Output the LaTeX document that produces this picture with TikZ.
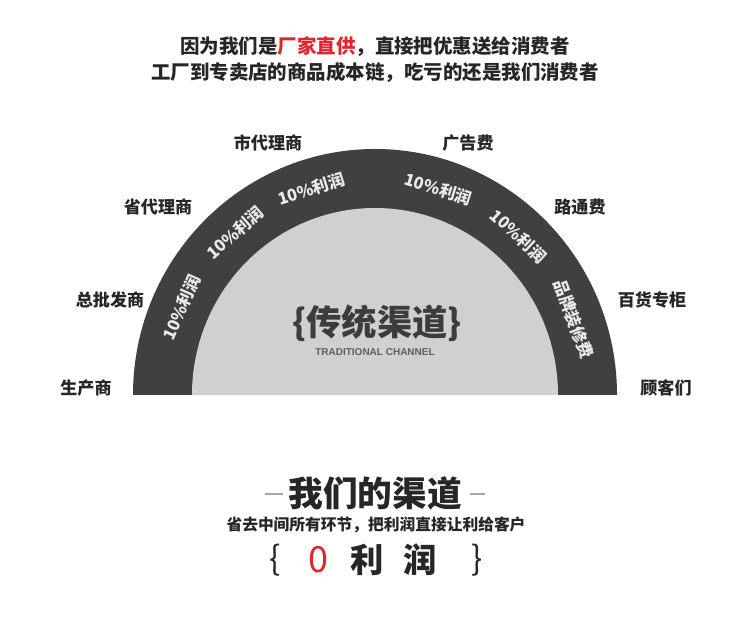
\documentclass[tikz,border=0pt]{standalone}
\usepackage{fontspec}
\usepackage{xcolor}
\setmainfont{Noto Sans CJK SC}
\newfontfamily\latinsans{Liberation Sans}
\usetikzlibrary{positioning,calc}
\definecolor{ringDark}{RGB}{64,64,64}
\definecolor{ringLight}{RGB}{208,208,208}
\definecolor{textDark}{RGB}{38,38,38}
\definecolor{accentRed}{RGB}{222,38,44}

\begin{document}
\begin{tikzpicture}[
    x=0.75pt, y=0.75pt,
    every node/.style={text=textDark, inner sep=0pt},
    headline/.style={font=\fontsize{14.6}{16}\selectfont\bfseries},
    station/.style={font=\fontsize{12.8}{14}\selectfont\bfseries},
    margin/.style={font=\fontsize{12.4}{13}\selectfont\bfseries, text=white!92!black},
    bigtitle/.style={font=\fontsize{26}{28}\selectfont\bfseries},
    zerorow/.style={font=\fontsize{25}{27}\selectfont\bfseries},
    dashline/.style={draw=gray!70, line width=0.8pt},
    ]
    \useasboundingbox[fill=white] (0,0) rectangle (750,631);
    % Header
    \node[headline] (head1) at (375,584)
      {因为我们是\textcolor{accentRed}{厂家直供}，直接把优惠送给消费者};
    \node[headline] (head2) at (375,558)
      {工厂到专卖店的商品成本链，吃亏的还是我们消费者};
    % Ring
    \coordinate (ctr) at (375,236);
    \fill[ringDark] (133,236) arc[start angle=180, end angle=0, x radius=242, y radius=246] -- cycle;
    \fill[ringLight] (192,236) arc[start angle=180, end angle=0, x radius=183, y radius=187] -- cycle;
    \foreach \ang/\txt in {156/10\%利润, 131.3/10\%利润, 107.5/10\%利润,
                          72.6/10\%利润, 47.4/10\%利润, 20.5/品牌装修费}
      \node[margin, rotate=\ang-90] at ($(ctr)+({212*cos(\ang)},{216*sin(\ang)})$) {\txt};
    \node[font=\fontsize{26.5}{28}\selectfont\bfseries, text=textDark!90!white] (oldtitle) at (377,308) {\{传统渠道\}};
    \node[font=\fontsize{7.5}{9}\selectfont\latinsans\bfseries, text=gray!75!black] (oldsub) at (375,279)
      {TRADITIONAL CHANNEL};
    % Stations, left
    \node[station] (s1) at (86,243)  {生产商};
    \node[station] (s2) at (110,331) {总批发商};
    \node[station] (s3) at (158,424) {省代理商};
    \node[station] (s4) at (268,488) {市代理商};
    % Stations, right
    \node[station] (s5) at (468,488) {广告费};
    \node[station] (s6) at (580,424) {路通费};
    \node[station] (s7) at (652,331) {百货专柜};
    \node[station] (s8) at (666,243) {顾客们};
    % Our channel
    \node[bigtitle] (ours) at (375,138) {我们的渠道};
    \coordinate (dl) at (265,137);
    \coordinate (dr) at (485,137);
    \draw[dashline] ([xshift=-4]ours.west |- dl) -- (dl);
    \draw[dashline] ([xshift=6]ours.east |- dr) -- (dr);
    \node[font=\fontsize{11.8}{13}\selectfont\bfseries] (oursub) at (376,106)
      {省去中间所有环节，把利润直接让利给客户};
    \node[zerorow, font=\fontsize{25}{27}\selectfont] (bl) at (275,71) {\{};
    \node[zerorow, font=\fontsize{27}{29}\selectfont, text=accentRed] (zero) at (318,71) {0};
    \node[zerorow] (li) at (367,71) {利};
    \node[zerorow] (run) at (420,71) {润};
    \node[zerorow, font=\fontsize{25}{27}\selectfont] (br) at (477,71) {\}};
\end{tikzpicture}
\end{document}
